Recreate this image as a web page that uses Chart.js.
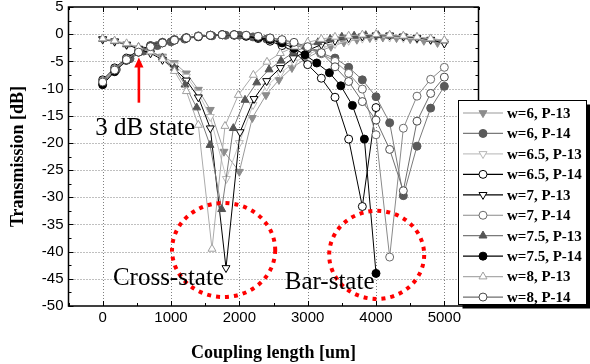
<!DOCTYPE html>
<html>
<head>
<meta charset="utf-8">
<script src="https://cdn.jsdelivr.net/npm/chart.js@4.4.1/dist/chart.umd.min.js"></script>
<style>
  html, body { margin: 0; padding: 0; background: #fff; }
</style>
</head>
<body>
<canvas id="chart" width="590" height="364"></canvas>
<script>
// axis ticks
const xTicks = [0, 1000, 2000, 3000, 4000, 5000];
const yTicks = [-50, -45, -40, -35, -30, -25, -20, -15, -10, -5, 0, 5];

// [coupling length (um), transmission (dB)]
const w6p13 = [[0,-1.0],[175,-1.4],[350,-2.0],[525,-2.6],[700,-3.2],[875,-4.1],[1050,-5.3],[1225,-7.2],[1400,-10.2],[1575,-13.9],[1775,-21.6],[2000,-25.3],[2190,-15.4],[2390,-11.2],[2580,-8.4],[2770,-6.2],[2960,-4.6],[3150,-3.3],[3340,-2.3],[3530,-1.5],[3720,-1.0],[3910,-0.7],[4100,-0.6],[4300,-0.7],[4500,-0.9],[4700,-1.2],[4900,-1.6]];
const w6p14 = [[0,-9.0],[200,-6.5],[400,-4.5],[600,-3.1],[800,-2.1],[1000,-1.4],[1200,-0.9],[1400,-0.5],[1600,-0.3],[1800,-0.2],[2000,-0.2],[2200,-0.5],[2400,-0.9],[2600,-1.4],[2800,-2.0],[3000,-2.7],[3200,-3.5],[3400,-4.4],[3600,-6.1],[3800,-8.4],[4000,-11.5],[4200,-16.3],[4400,-29.7],[4600,-20.6],[4800,-13.6],[5000,-9.6]];
const w65p13 = [[0,-0.9],[175,-1.3],[350,-1.9],[525,-2.6],[700,-3.3],[875,-4.3],[1050,-5.7],[1225,-7.8],[1400,-10.8],[1575,-15.2],[1810,-26.6],[2000,-20.0],[2200,-13.0],[2400,-9.6],[2600,-7.2],[2800,-5.2],[3000,-3.8],[3200,-2.6],[3400,-1.8],[3600,-1.2],[3800,-0.8],[4000,-0.6],[4200,-0.6],[4400,-0.7],[4600,-0.9],[4800,-1.1],[5000,-1.4]];
const w65p14 = [[0,-8.4],[175,-6.2],[350,-4.4],[525,-3.0],[700,-2.1],[875,-1.5],[1050,-1.0],[1225,-0.7],[1400,-0.4],[1575,-0.2],[1750,-0.1],[1925,-0.2],[2100,-0.4],[2275,-0.8],[2450,-1.3],[2625,-2.1],[2800,-3.2],[3000,-5.6],[3200,-8.1],[3400,-11.6],[3600,-19.3],[3800,-31.7],[4000,-13.5]];
const w7p13 = [[0,-0.9],[175,-1.3],[350,-1.9],[525,-2.7],[700,-3.5],[875,-4.7],[1050,-6.3],[1225,-8.5],[1400,-11.6],[1575,-17.3],[1805,-43.0],[2010,-18.0],[2215,-11.9],[2400,-8.6],[2600,-6.2],[2790,-4.4],[3000,-3.0],[3200,-1.9],[3400,-1.2],[3600,-0.7],[3800,-0.4],[4000,-0.2],[4200,-0.2],[4400,-0.4],[4600,-0.7],[4800,-1.0],[5000,-1.7]];
const w7p14 = [[0,-8.6],[175,-6.4],[350,-4.6],[525,-3.2],[700,-2.2],[875,-1.5],[1050,-1.0],[1225,-0.6],[1400,-0.3],[1575,-0.2],[1750,-0.1],[1925,-0.1],[2100,-0.2],[2275,-0.4],[2450,-0.7],[2625,-1.1],[2800,-1.7],[3000,-2.5],[3200,-3.6],[3400,-5.0],[3600,-7.2],[3800,-10.1],[4000,-18.5],[4200,-41.0],[4400,-17.3],[4600,-11.4],[4800,-8.3],[5000,-6.1]];
const w75p13 = [[0,-0.9],[175,-1.3],[350,-1.9],[525,-2.4],[700,-3.2],[875,-4.3],[1050,-6.2],[1205,-9.3],[1376,-13.5],[1571,-20.4],[1742,-32.2],[1912,-17.3],[2083,-12.1],[2255,-8.9],[2435,-6.5],[2610,-4.9],[2790,-3.4],[2970,-2.3],[3150,-1.5],[3330,-0.9],[3500,-0.5],[3680,-0.3],[3850,-0.2],[4030,-0.2],[4200,-0.3],[4400,-0.4],[4600,-0.6],[4800,-0.9],[5000,-1.2]];
const w75p14 = [[0,-9.3],[175,-6.9],[350,-4.8],[525,-3.3],[700,-2.3],[875,-1.6],[1050,-1.1],[1225,-0.7],[1400,-0.4],[1575,-0.2],[1750,-0.1],[1925,-0.1],[2100,-0.3],[2275,-0.6],[2450,-1.0],[2625,-1.6],[2800,-2.6],[2960,-3.8],[3133,-5.3],[3318,-7.1],[3485,-9.5],[3655,-13.1],[3830,-19.3],[4000,-44.0]];
const w8p13 = [[0,-0.8],[175,-1.2],[350,-1.7],[525,-2.4],[700,-3.2],[875,-4.6],[1050,-6.8],[1225,-10.5],[1400,-16.7],[1600,-39.5],[1790,-16.9],[1985,-11.2],[2205,-7.5],[2405,-5.1],[2600,-3.5],[2815,-2.3],[3000,-1.5],[3200,-0.9],[3400,-0.5],[3600,-0.3],[3800,-0.1],[4000,0.0],[4200,-0.1],[4400,-0.3],[4600,-0.5],[4800,-0.8],[5000,-1.1]];
const w8p14 = [[0,-8.8],[175,-6.6],[350,-4.7],[525,-3.3],[700,-2.3],[875,-1.6],[1050,-1.1],[1225,-0.7],[1400,-0.4],[1575,-0.2],[1750,-0.1],[1925,-0.1],[2100,-0.2],[2275,-0.4],[2450,-0.7],[2625,-1.0],[2800,-1.5],[3000,-2.3],[3200,-3.4],[3400,-6.0],[3600,-8.7],[3800,-12.4],[4000,-15.8],[4200,-21.2],[4400,-28.8],[4600,-16.0],[4800,-10.9],[5000,-7.9]];

const seriesNames = ['w=6, P-13', 'w=6, P-14', 'w=6.5, P-13', 'w=6.5, P-14', 'w=7, P-13',
  'w=7, P-14', 'w=7.5, P-13', 'w=7.5, P-14', 'w=8, P-13', 'w=8, P-14'];
const seriesData = [w6p13, w6p14, w65p13, w65p14, w7p13, w7p14, w75p13, w75p14, w8p13, w8p14];

// line colour, marker fill, marker edge, marker shape, rotation
const looks = [
  ['#9a9a9a', '#8c8c8c', '#8c8c8c', 'triangle', 180],
  ['#7a7a7a', '#5a5a5a', '#5a5a5a', 'circle', 0],
  ['#c4c4c4', '#ffffff', '#b8b8b8', 'triangle', 180],
  ['#000000', '#ffffff', '#000000', 'circle', 0],
  ['#000000', '#ffffff', '#000000', 'triangle', 180],
  ['#8a8a8a', '#ffffff', '#6a6a6a', 'circle', 0],
  ['#7a7a7a', '#555555', '#555555', 'triangle', 0],
  ['#000000', '#000000', '#000000', 'circle', 0],
  ['#ababab', '#ffffff', '#a0a0a0', 'triangle', 0],
  ['#6e6e6e', '#ffffff', '#4a4a4a', 'circle', 0],
];

const datasets = seriesData.map((d, i) => {
  const [line, fill, edge, shape, rot] = looks[i];
  return {
    label: seriesNames[i],
    data: d.map(([x, y]) => ({ x, y })),
    showLine: true,
    borderColor: line,
    borderWidth: 1,
    pointStyle: shape,
    pointRotation: rot,
    pointRadius: shape === 'circle' ? 4 : 4.6,
    pointBackgroundColor: fill,
    pointBorderColor: edge,
    pointBorderWidth: 1,
    order: -i,
  };
});

const serif = "'Liberation Serif', 'Times New Roman', serif";
const sans = "'Liberation Sans', Arial, sans-serif";

// annotation anchors in data units
const arrowAt = { x: 530, from: -12.6, to: -4.3 };
const notes = [
  { text: '3 dB state', x: -110, y: -18.6 },
  { text: 'Cross-state', x: 150, y: -46.1 },
  { text: 'Bar-state', x: 2665, y: -46.8 },
];
const rings = [
  { x: 1770, y: -39.7, rx: 755, ry: 8.65 },
  { x: 4010, y: -40.6, rx: 695, ry: 8.1 },
];

function seg(ctx, x1, y1, x2, y2) {
  ctx.beginPath(); ctx.moveTo(x1, y1); ctx.lineTo(x2, y2); ctx.stroke();
}

const decor = {
  id: 'decor',
  beforeDatasetsDraw(chart) {
    const { ctx, chartArea: a, scales: { x, y } } = chart;
    ctx.save();
    ctx.strokeStyle = '#808080';
    ctx.lineWidth = 1;
    ctx.setLineDash([1, 2]);
    xTicks.forEach(v => {
      const p = Math.round(x.getPixelForValue(v)) + 0.5;
      seg(ctx, p, a.top, p, a.bottom);
    });
    yTicks.filter(v => v > -50 && v < 5).forEach(v => {
      const p = Math.round(y.getPixelForValue(v)) + 0.5;
      seg(ctx, a.left, p, a.right, p);
    });
    ctx.restore();
  },
  afterDatasetsDraw(chart) {
    const { ctx, scales: { x, y } } = chart;
    ctx.save();
    // dotted red rings
    ctx.strokeStyle = '#ff0000';
    ctx.lineWidth = 4;
    ctx.setLineDash([4, 5]);
    rings.forEach(r => {
      const cx = x.getPixelForValue(r.x), cy = y.getPixelForValue(r.y);
      const rx = x.getPixelForValue(r.x + r.rx) - cx;
      const ry = y.getPixelForValue(r.y - r.ry) - cy;
      ctx.beginPath();
      ctx.ellipse(cx, cy, rx, ry, 0, 0, Math.PI * 2);
      ctx.stroke();
    });
    ctx.setLineDash([]);
    // red arrow
    const ax = x.getPixelForValue(arrowAt.x);
    const y0 = y.getPixelForValue(arrowAt.from), y1 = y.getPixelForValue(arrowAt.to);
    ctx.lineWidth = 2.6;
    seg(ctx, ax, y0, ax, y1 + 8);
    ctx.fillStyle = '#ff0000';
    ctx.beginPath();
    ctx.moveTo(ax, y1); ctx.lineTo(ax - 4.6, y1 + 10); ctx.lineTo(ax + 4.6, y1 + 10);
    ctx.closePath(); ctx.fill();
    // labels
    ctx.fillStyle = '#000';
    ctx.font = '25px ' + serif;
    ctx.textBaseline = 'alphabetic';
    notes.forEach(n => ctx.fillText(n.text, x.getPixelForValue(n.x), y.getPixelForValue(n.y)));
    ctx.restore();
  },
  afterDraw(chart) {
    const { ctx, chartArea: a, scales: { x, y } } = chart;
    ctx.save();
    // frame with inward ticks
    ctx.strokeStyle = '#000';
    ctx.lineWidth = 1.5;
    ctx.strokeRect(a.left, a.top, a.right - a.left, a.bottom - a.top);
    ctx.lineWidth = 1;
    for (let v = -500; v <= 5500; v += 500) {
      const p = Math.round(x.getPixelForValue(v)) + 0.5;
      const len = v % 1000 === 0 ? 5 : 3;
      seg(ctx, p, a.bottom, p, a.bottom - len);
      seg(ctx, p, a.top, p, a.top + len);
    }
    for (let v = -50; v <= 5; v += 2.5) {
      const p = Math.round(y.getPixelForValue(v)) + 0.5;
      const len = v % 5 === 0 ? 5 : 3;
      seg(ctx, a.left, p, a.left + len, p);
      seg(ctx, a.right, p, a.right - len, p);
    }
    // legend box with shadow
    const bx = 458.5, by = 100.5, bw = 128, bh = 204;
    ctx.fillStyle = '#000';
    ctx.fillRect(bx + 4, by + 4, bw, bh);
    ctx.fillStyle = '#fff';
    ctx.fillRect(bx, by, bw, bh);
    ctx.strokeStyle = '#000';
    ctx.lineWidth = 1;
    ctx.strokeRect(bx, by, bw, bh);
    ctx.font = 'bold 15px ' + serif;
    ctx.textBaseline = 'middle';
    chart.data.datasets.forEach((ds, i) => {
      const ry = 113 + i * 20.45;
      ctx.strokeStyle = ds.borderColor;
      ctx.lineWidth = 1.2;
      seg(ctx, 463, ry, 503, ry);
      ctx.fillStyle = ds.pointBackgroundColor;
      ctx.strokeStyle = ds.pointBorderColor;
      ctx.lineWidth = 1;
      Chart.helpers.drawPoint(ctx, {
        pointStyle: ds.pointStyle, rotation: ds.pointRotation,
        radius: ds.pointRadius, borderWidth: 1,
      }, 483, ry);
      ctx.fillStyle = '#000';
      ctx.fillText(ds.label, 507, ry + 1);
    });
    ctx.restore();
  },
};

new Chart(document.getElementById('chart'), {
  type: 'scatter',
  data: { datasets },
  options: {
    responsive: false,
    animation: false,
    devicePixelRatio: 1,
    layout: { padding: { left: 0, top: 7, right: 111.5, bottom: 0 } },
    plugins: { legend: { display: false }, tooltip: { enabled: false } },
    scales: {
      x: {
        type: 'linear',
        min: -500,
        max: 5500,
        grid: { display: false, drawTicks: false },
        border: { display: false },
        afterBuildTicks: s => { s.ticks = xTicks.map(value => ({ value })); },
        afterFit: s => { s.height = 58; s.paddingLeft = 0; s.paddingRight = 0; },
        ticks: {
          padding: 3, color: '#000', font: { family: sans, size: 15 }, maxRotation: 0,
          callback: v => String(v),
        },
        title: {
          display: true, text: 'Coupling length [um]', color: '#000',
          font: { family: serif, size: 18, weight: 'bold' }, padding: { top: 9, bottom: 0 },
        },
      },
      y: {
        type: 'linear',
        min: -50,
        max: 5,
        grid: { display: false, drawTicks: false },
        border: { display: false },
        afterBuildTicks: s => { s.ticks = yTicks.map(value => ({ value })); },
        afterFit: s => { s.width = 68.5; s.paddingTop = 0; s.paddingBottom = 0; },
        ticks: { padding: 5, color: '#000', font: { family: sans, size: 15 }, callback: v => String(v) },
        title: {
          display: true, text: 'Transmission [dB]', color: '#000',
          font: { family: serif, size: 18, weight: 'bold' }, padding: { top: 8, bottom: 0 },
        },
      },
    },
  },
  plugins: [decor],
});
</script>
</body>
</html>
